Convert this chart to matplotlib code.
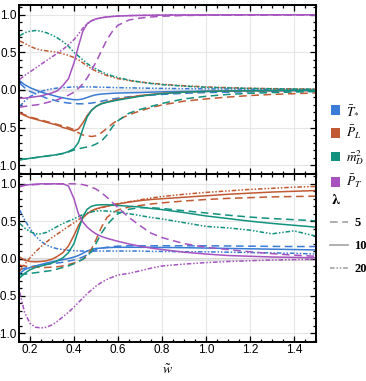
import numpy as np
import matplotlib
matplotlib.use("Agg")
import matplotlib.pyplot as plt
from matplotlib.patches import Patch
from matplotlib.lines import Line2D
from matplotlib.ticker import MultipleLocator

plt.rcParams['font.family'] = ['Liberation Sans', 'DejaVu Sans']
plt.rcParams['mathtext.fontset'] = 'stix'

# common w grid for both panels
w = [0.153, 0.175, 0.2, 0.225, 0.25, 0.275, 0.3, 0.325, 0.35, 0.375, 0.4, 0.42, 0.44, 0.46, 0.48,
     0.5, 0.525, 0.55, 0.575, 0.6, 0.65, 0.7, 0.75, 0.8, 0.9, 1.0, 1.1, 1.2, 1.3, 1.4, 1.5]

lambdas = ["5", "10", "20"]
names = [r"$\bar{T}_{*}$", r"$\bar{P}_L$", r"$\bar{m}_D^2$", r"$\bar{P}_T$"]
colors = ["#3a7bd5", "#c15a33", "#12917f", "#a653bf"]

# ---- top panel ----
top_T_5 = [0.09, 0.03, -0.02, -0.05, -0.08, -0.11, -0.13, -0.15, -0.165, -0.175, -0.18, -0.185, -0.185, -0.18, -0.175,
           -0.165, -0.15, -0.135, -0.12, -0.11, -0.09, -0.08, -0.07, -0.06, -0.045, -0.035, -0.03, -0.025, -0.02, -0.018, -0.015]
top_T_10 = [0.12, 0.07, 0.03, 0.0, -0.03, -0.05, -0.07, -0.09, -0.105, -0.12, -0.13, -0.13, -0.12, -0.1, -0.08,
            -0.065, -0.055, -0.05, -0.045, -0.042, -0.038, -0.035, -0.03, -0.025, -0.02, -0.016, -0.013, -0.011, -0.01, -0.008, -0.007]
top_T_20 = [-0.22, -0.15, -0.09, -0.05, -0.02, 0.0, 0.015, 0.025, 0.03, 0.035, 0.04, 0.04, 0.04, 0.04, 0.04,
            0.038, 0.036, 0.034, 0.032, 0.03, 0.027, 0.025, 0.022, 0.02, 0.017, 0.014, 0.012, 0.01, 0.008, 0.007, 0.006]

top_PL_5 = [-0.30, -0.33, -0.36, -0.38, -0.40, -0.42, -0.44, -0.46, -0.48, -0.50, -0.53, -0.57, -0.60, -0.61, -0.62,
            -0.61, -0.57, -0.51, -0.45, -0.40, -0.33, -0.28, -0.235, -0.20, -0.15, -0.12, -0.095, -0.075, -0.06, -0.05, -0.04]
top_PL_10 = [-0.31, -0.34, -0.37, -0.39, -0.41, -0.43, -0.45, -0.47, -0.50, -0.52, -0.545, -0.52, -0.44, -0.34, -0.27,
             -0.22, -0.18, -0.16, -0.14, -0.125, -0.1, -0.075, -0.06, -0.045, -0.03, -0.02, -0.015, -0.012, -0.01, -0.008, -0.007]
top_PL_20 = [0.65, 0.62, 0.58, 0.55, 0.53, 0.52, 0.51, 0.5, 0.48, 0.46, 0.43, 0.40, 0.36, 0.32, 0.28,
             0.25, 0.22, 0.19, 0.17, 0.15, 0.125, 0.105, 0.09, 0.075, 0.055, 0.04, 0.03, 0.022, 0.017, 0.013, 0.01]

top_mD_5 = [-0.93, -0.92, -0.91, -0.9, -0.89, -0.88, -0.87, -0.86, -0.845, -0.825, -0.80, -0.785, -0.77, -0.76, -0.745,
            -0.72, -0.68, -0.60, -0.49, -0.41, -0.31, -0.26, -0.22, -0.18, -0.12, -0.085, -0.06, -0.045, -0.035, -0.028, -0.022]
top_mD_10 = [-0.93, -0.92, -0.91, -0.9, -0.89, -0.88, -0.87, -0.86, -0.845, -0.82, -0.78, -0.70, -0.52, -0.36, -0.27,
             -0.22, -0.185, -0.165, -0.15, -0.135, -0.11, -0.085, -0.065, -0.05, -0.03, -0.02, -0.014, -0.01, -0.008, -0.006, -0.005]
top_mD_20 = [0.72, 0.76, 0.78, 0.79, 0.78, 0.76, 0.73, 0.69, 0.64, 0.58, 0.50, 0.45, 0.40, 0.35, 0.31,
             0.28, 0.24, 0.21, 0.185, 0.165, 0.13, 0.105, 0.085, 0.07, 0.05, 0.035, 0.026, 0.02, 0.015, 0.012, 0.01]

top_PT_5 = [-0.23, -0.22, -0.21, -0.2, -0.19, -0.17, -0.15, -0.13, -0.1, -0.07, -0.03, 0.02, 0.08, 0.16, 0.26,
            0.37, 0.52, 0.67, 0.78, 0.86, 0.93, 0.955, 0.97, 0.98, 0.99, 0.993, 0.995, 0.996, 0.997, 0.998, 0.998]
top_PT_10 = [-0.11, -0.11, -0.1, -0.09, -0.08, -0.06, -0.04, -0.01, 0.06, 0.15, 0.36, 0.58, 0.78, 0.88, 0.92,
             0.945, 0.96, 0.97, 0.977, 0.982, 0.988, 0.991, 0.993, 0.995, 0.997, 0.998, 0.998, 0.999, 0.999, 0.999, 0.999]
top_PT_20 = [0.14, 0.19, 0.24, 0.29, 0.34, 0.39, 0.44, 0.49, 0.54, 0.6, 0.67, 0.74, 0.82, 0.88, 0.92,
             0.945, 0.96, 0.97, 0.977, 0.982, 0.988, 0.991, 0.993, 0.995, 0.997, 0.998, 0.998, 0.999, 0.999, 0.999, 0.999]

# ---- bottom panel ----
bot_T_5 = [-0.15, -0.13, -0.11, -0.1, -0.09, -0.08, -0.07, -0.06, -0.05, -0.035, -0.02, 0.0, 0.02, 0.05, 0.09,
           0.12, 0.14, 0.15, 0.16, 0.165, 0.17, 0.17, 0.17, 0.17, 0.17, 0.17, 0.168, 0.165, 0.162, 0.16, 0.16]
bot_T_10 = [-0.2, -0.15, -0.12, -0.1, -0.08, -0.06, -0.045, -0.03, -0.015, 0.0, 0.02, 0.04, 0.07, 0.1, 0.12,
            0.135, 0.14, 0.145, 0.148, 0.15, 0.15, 0.15, 0.15, 0.148, 0.145, 0.14, 0.135, 0.13, 0.125, 0.12, 0.115]
bot_T_20 = [0.65, 0.52, 0.40, 0.30, 0.23, 0.18, 0.15, 0.13, 0.12, 0.11, 0.105, 0.1, 0.1, 0.1, 0.1,
            0.1, 0.1, 0.1, 0.1, 0.1, 0.1, 0.1, 0.095, 0.095, 0.09, 0.09, 0.085, 0.08, 0.075, 0.07, 0.06]

bot_PL_5 = [-0.09, -0.1, -0.11, -0.115, -0.12, -0.12, -0.115, -0.11, -0.1, -0.08, -0.06, -0.04, -0.01, 0.04, 0.13,
            0.25, 0.42, 0.55, 0.61, 0.65, 0.69, 0.71, 0.73, 0.745, 0.77, 0.79, 0.805, 0.815, 0.825, 0.83, 0.835]
bot_PL_10 = [0.02, -0.02, -0.04, -0.045, -0.04, -0.03, -0.01, 0.03, 0.08, 0.17, 0.31, 0.44, 0.54, 0.6, 0.64,
             0.665, 0.685, 0.7, 0.715, 0.73, 0.755, 0.775, 0.79, 0.8, 0.82, 0.84, 0.86, 0.875, 0.89, 0.9, 0.91]
bot_PL_20 = [-0.17, -0.08, 0.01, 0.09, 0.16, 0.22, 0.28, 0.33, 0.38, 0.43, 0.48, 0.52, 0.56, 0.6, 0.63,
             0.655, 0.68, 0.7, 0.72, 0.735, 0.76, 0.785, 0.81, 0.83, 0.86, 0.885, 0.905, 0.925, 0.94, 0.955, 0.965]

bot_mD_5 = [-0.22, -0.21, -0.2, -0.19, -0.18, -0.17, -0.16, -0.14, -0.12, -0.1, -0.07, -0.04, -0.01, 0.03, 0.1,
            0.2, 0.34, 0.45, 0.53, 0.6, 0.66, 0.68, 0.68, 0.67, 0.64, 0.61, 0.58, 0.555, 0.535, 0.52, 0.505]
bot_mD_10 = [-0.26, -0.2, -0.15, -0.12, -0.1, -0.08, -0.06, -0.03, 0.01, 0.08, 0.2, 0.38, 0.56, 0.66, 0.7,
             0.715, 0.72, 0.72, 0.715, 0.71, 0.7, 0.69, 0.67, 0.655, 0.615, 0.57, 0.535, 0.5, 0.47, 0.445, 0.42]
bot_mD_20 = [0.47, 0.41, 0.36, 0.33, 0.33, 0.35, 0.39, 0.43, 0.47, 0.5, 0.53, 0.56, 0.59, 0.61, 0.625,
             0.635, 0.64, 0.635, 0.63, 0.62, 0.6, 0.575, 0.55, 0.53, 0.48, 0.43, 0.41, 0.38, 0.33, 0.37, 0.3]

bot_PT_5 = [0.97, 0.98, 0.985, 0.99, 0.995, 0.998, 1.0, 1.0, 1.0, 1.0, 1.0, 0.995, 0.99, 0.975, 0.955,
            0.93, 0.88, 0.82, 0.75, 0.68, 0.55, 0.44, 0.34, 0.28, 0.2, 0.15, 0.12, 0.09, 0.065, 0.045, 0.03]
bot_PT_10 = [0.96, 0.98, 0.99, 0.995, 1.0, 1.0, 1.0, 1.0, 1.0, 0.97, 0.8, 0.6, 0.49, 0.42, 0.37,
             0.33, 0.295, 0.27, 0.25, 0.23, 0.195, 0.165, 0.14, 0.12, 0.085, 0.06, 0.04, 0.03, 0.02, 0.015, 0.01]
bot_PT_20 = [-0.45, -0.72, -0.87, -0.92, -0.93, -0.92, -0.89, -0.84, -0.78, -0.72, -0.65, -0.59, -0.53, -0.47, -0.42,
             -0.37, -0.32, -0.28, -0.25, -0.22, -0.2, -0.165, -0.13, -0.1, -0.075, -0.055, -0.04, -0.03, -0.02, -0.015, -0.01]

top_series = [[top_T_5, top_T_10, top_T_20], [top_PL_5, top_PL_10, top_PL_20],
              [top_mD_5, top_mD_10, top_mD_20], [top_PT_5, top_PT_10, top_PT_20]]
bot_series = [[bot_T_5, bot_T_10, bot_T_20], [bot_PL_5, bot_PL_10, bot_PL_20],
              [bot_mD_5, bot_mD_10, bot_mD_20], [bot_PT_5, bot_PT_10, bot_PT_20]]

styles = [(0, (5, 3)), "-", (0, (3, 1.2, 1, 1.2, 1, 1.2))]

fig = plt.figure(figsize=(3.66, 3.81), dpi=100)
ax1 = fig.add_axes([0.052, 0.543, 0.811, 0.444])
ax2 = fig.add_axes([0.052, 0.102, 0.811, 0.441])

for ax, series, zc in [(ax1, top_series, "#999999"), (ax2, bot_series, "#333333")]:
    ax.axhline(0, color=zc, lw=1.0, zorder=1)
    for c, group in zip(colors, series):
        for ls, ys in zip(styles, group):
            ax.plot(w, ys, color=c, ls=ls, lw=1.1, zorder=2)
    ax.set_xlim(0.15, 1.5)
    ax.set_ylim(-1.12, 1.13)
    ax.xaxis.set_major_locator(MultipleLocator(0.2))
    ax.xaxis.set_minor_locator(MultipleLocator(0.05))
    ax.yaxis.set_major_locator(MultipleLocator(0.5))
    ax.yaxis.set_minor_locator(MultipleLocator(0.1))
    ax.grid(True, which="major", color="#e6e6e6", lw=0.8, zorder=0)
    ax.tick_params(which="both", direction="in", top=True, right=True, labelsize=8.5, pad=1.5, width=0.9)
    ax.tick_params(which="major", length=4)
    ax.tick_params(which="minor", length=2.2)
    for s in ax.spines.values():
        s.set_linewidth(1.4)

ax1.tick_params(labelbottom=False)
ax2.set_xlabel(r"$\tilde{w}$", fontsize=10, labelpad=5)

# legends on the right
h1 = [Patch(facecolor=c, edgecolor="none") for c in colors]
fig.legend(h1, names, loc="upper left", bbox_to_anchor=(0.872, 0.758), frameon=False,
           handlelength=0.7, handleheight=0.7, handletextpad=0.4, labelspacing=0.5, fontsize=9.5)
fig.text(0.918, 1 - 200 / 381, r"$\boldsymbol{\lambda}$", fontsize=11, ha="center", va="center")
h2 = [Line2D([], [], color="#9a9a9a", ls=ls, lw=1.1) for ls in styles]
fig.legend(h2, lambdas, loc="upper left", bbox_to_anchor=(0.872, 0.46), frameon=False,
           handlelength=1.4, handletextpad=0.5, labelspacing=0.9,
           prop={"family": "Liberation Serif", "weight": "bold", "size": 9})

fig.savefig("out.png", dpi=100)
